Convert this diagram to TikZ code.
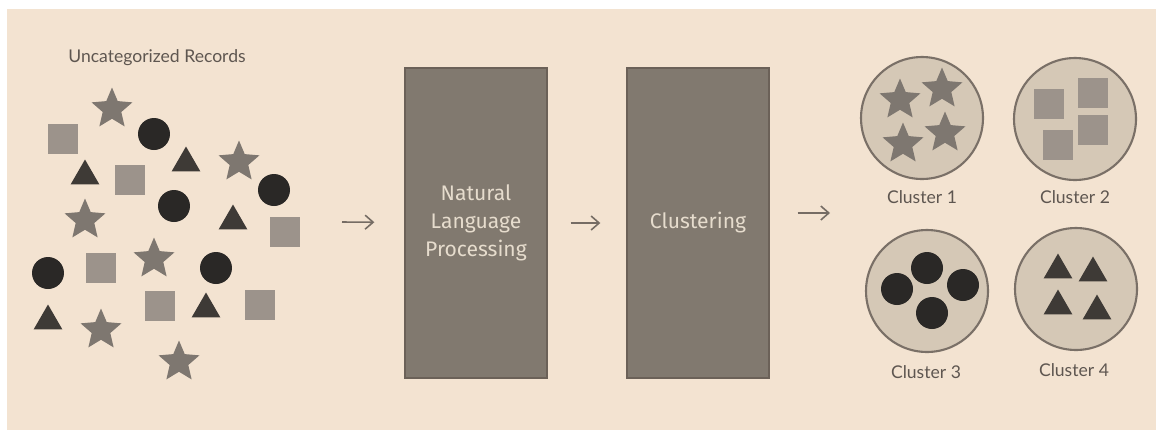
\documentclass[tikz,border=0pt]{standalone}
\usepackage{fontspec}
\setmainfont{Lato}
\newfontfamily\handfont{Fira Sans}
\usetikzlibrary{shapes.geometric,arrows.meta}
\definecolor{bgcol}{HTML}{F3E3D1}
\definecolor{starcol}{HTML}{7E7770}
\definecolor{sqcol}{HTML}{9C938B}
\definecolor{dotcol}{HTML}{2A2826}
\definecolor{tricol}{HTML}{3E3A36}
\definecolor{boxcol}{HTML}{81796F}
\definecolor{boxline}{HTML}{6B6158}
\definecolor{boxtext}{HTML}{E6DCCD}
\definecolor{grpcol}{HTML}{D5C8B6}
\definecolor{grpline}{HTML}{7A7067}
\definecolor{lblcol}{HTML}{5E5650}
\definecolor{arrcol}{HTML}{756C64}
\begin{document}
\begin{tikzpicture}[x=0.02cm,y=-0.02cm,>={Straight Barb[length=1.6mm,width=2.8mm]},
  starsh/.style={star,star points=5,star point ratio=2.2,minimum size=0.86cm,inner sep=0pt,fill=starcol},
  sqsh/.style={rectangle,minimum size=0.6cm,inner sep=0pt,fill=sqcol},
  dotsh/.style={circle,minimum size=0.64cm,inner sep=0pt,fill=dotcol},
  trish/.style={regular polygon,regular polygon sides=3,minimum size=0.66cm,inner sep=0pt,fill=tricol},
  stage/.style={rectangle,minimum width=2.84cm,minimum height=6.2cm,fill=boxcol,draw=boxline,line width=0.8pt,text=boxtext,font=\handfont\fontsize{12}{16}\selectfont,align=center},
  group/.style={circle,minimum size=2.44cm,inner sep=0pt,fill=grpcol,draw=grpline,line width=1.2pt},
  lbl/.style={text=lblcol,font=\fontsize{10}{12}\selectfont},
  flow/.style={->,draw=arrcol,line width=0.9pt}]
\useasboundingbox (0,0) rectangle (1156,430);
\fill[white] (0,0) rectangle (1156,430);
\fill[bgcol] (7,9) rectangle (1156,430);

% records
\node[lbl] (title) at (157,58) {Uncategorized Records};
\foreach \x/\y [count=\i] in {112/109,239/162,85/220,154/259,101/330,179/362}
{
    \node[starsh] (star\i) at (\x,\y) {};
}
\foreach \x/\y [count=\i] in {63/139,130/180,285/232,101/268,160/306,260/305}
{
    \node[sqsh] (sq\i) at (\x,\y) {};
}
\foreach \x/\y [count=\i] in {154/134,274/190,174/206,48/273,216/268}
{
    \node[dotsh] (dot\i) at (\x,\y) {};
}
\foreach \x/\y [count=\i] in {186/163,85/176,233/221,206/309,48/321}
{
    \node[trish] (tri\i) at (\x,\y) {};
}

% stages
\node[stage] (nlp) at (476,223) {Natural\\Language\\Processing};
\node[stage] (clus) at (698,223) {Clustering};

\coordinate (in) at (342,222);
\coordinate (out) at (830,213);
\draw[flow,shorten >=0.6cm] (in) -- (nlp);
\draw[flow,shorten <=0.46cm,shorten >=0.52cm] (nlp) -- (clus);
\draw[flow,shorten <=0.56cm] (clus.east |- out) -- (out);

% clusters
\node[group] (g1) at (922,118) {};
\node[group] (g2) at (1075,119) {};
\node[group] (g3) at (927,291) {};
\node[group] (g4) at (1076,289) {};
\node[lbl] (l1) at (922,197) {Cluster 1};
\node[lbl] (l2) at (1075,197) {Cluster 2};
\node[lbl] (l3) at (926,372) {Cluster 3};
\node[lbl] (l4) at (1074,370) {Cluster 4};
\foreach \x/\y [count=\i] in {900/100,942/89,903/144,945/133}
{
    \node[starsh] (gstar\i) at (\x,\y) {};
}
\foreach \x/\y [count=\i] in {1049/104,1093/93,1093/130,1058/145}
{
    \node[sqsh] (gsq\i) at (\x,\y) {};
}
\foreach \x/\y [count=\i] in {927/268,897/289,963/285,932/313}
{
    \node[dotsh] (gdot\i) at (\x,\y) {};
}
\foreach \x/\y [count=\i] in {1058/270,1093/273,1058/306,1097/311}
{
    \node[trish] (gtri\i) at (\x,\y) {};
}

\end{tikzpicture}
\end{document}
